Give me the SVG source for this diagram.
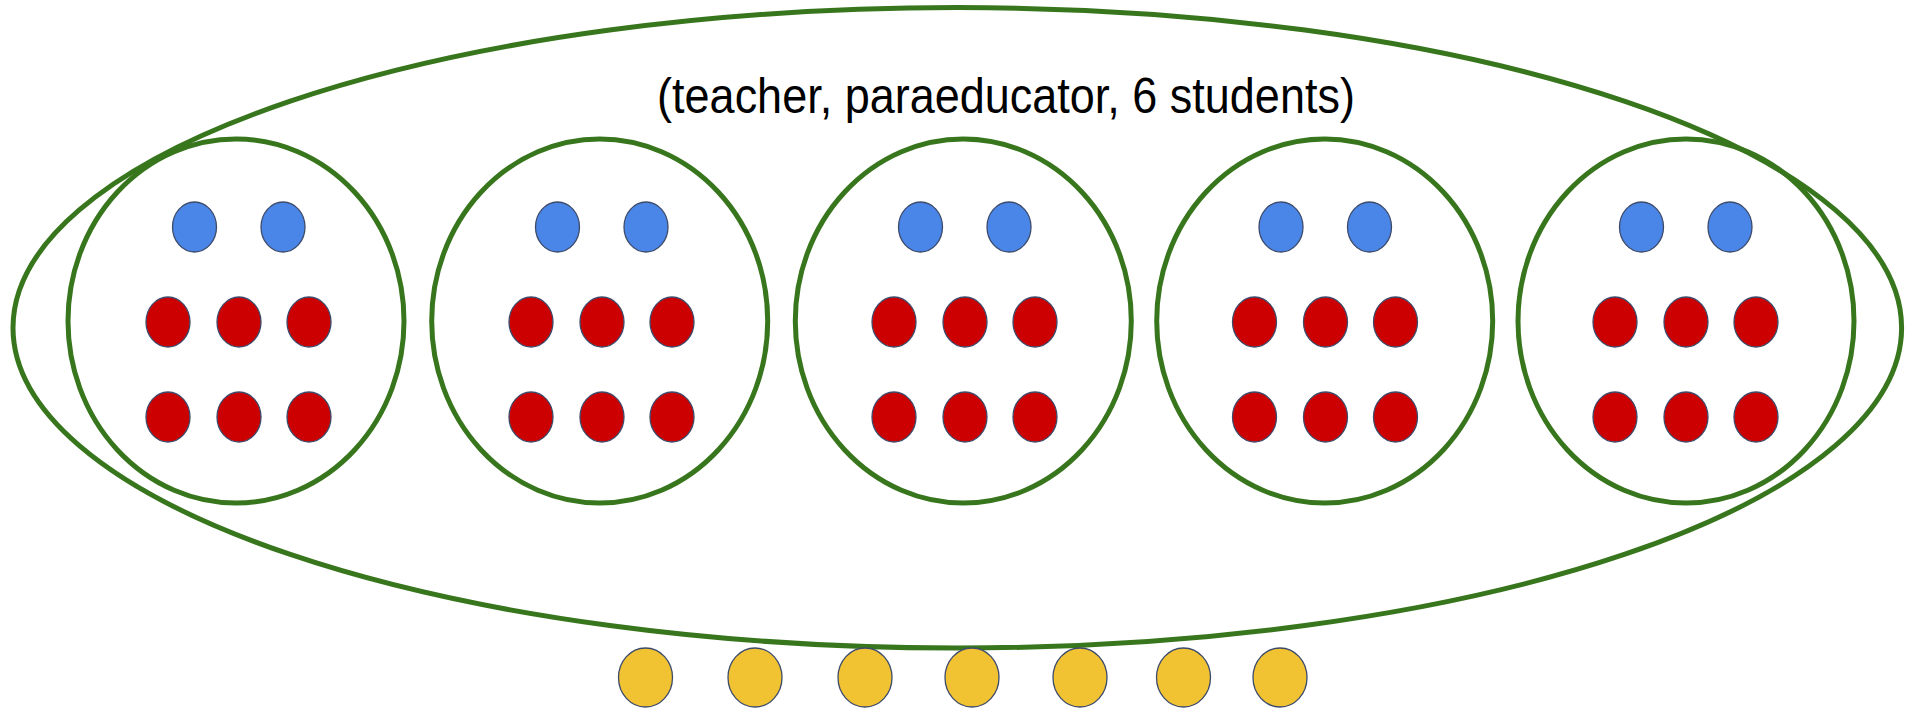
<svg xmlns="http://www.w3.org/2000/svg" width="1905" height="709" viewBox="0 0 1905 709">
  <style>
    .ring { fill: none; stroke: #38761d; stroke-width: 5; }
    .dot { stroke: #3d4b6b; stroke-width: 1.3; }
    .teacher { fill: #4a86e8; }
    .student { fill: #cc0000; }
    .aide { fill: #f1c232; }
    .label { font-family: "Liberation Sans", Arial, sans-serif; font-size: 45px; fill: #000000; }
  </style>
  <defs>
    <g id="cluster">
      <ellipse class="dot teacher" cx="194.5" cy="227" rx="22" ry="25"/>
      <ellipse class="dot teacher" cx="283" cy="227" rx="22" ry="25"/>
      <ellipse class="dot student" cx="168" cy="322" rx="22" ry="25"/>
      <ellipse class="dot student" cx="239" cy="322" rx="22" ry="25"/>
      <ellipse class="dot student" cx="309" cy="322" rx="22" ry="25"/>
      <ellipse class="dot student" cx="168" cy="417" rx="22" ry="25"/>
      <ellipse class="dot student" cx="239" cy="417" rx="22" ry="25"/>
      <ellipse class="dot student" cx="309" cy="417" rx="22" ry="25"/>
    </g>
  </defs>
  <rect width="1905" height="709" fill="#ffffff"/>
  <g id="classroom">
    <ellipse class="ring" cx="957.3" cy="327.8" rx="944.3" ry="320.2"/>
    <text class="label" text-anchor="middle" transform="translate(1006,113) scale(1,1.12)">(teacher, paraeducator, 6 students)</text>
  </g>
  <g id="group-1">
    <ellipse class="ring" cx="236" cy="321" rx="168" ry="182"/>
    <use href="#cluster"/>
  </g>
  <g id="group-2">
    <ellipse class="ring" cx="599.7" cy="321" rx="168" ry="182"/>
    <use href="#cluster" transform="translate(363,0)"/>
  </g>
  <g id="group-3">
    <ellipse class="ring" cx="963.3" cy="321" rx="168" ry="182"/>
    <use href="#cluster" transform="translate(726,0)"/>
  </g>
  <g id="group-4">
    <ellipse class="ring" cx="1324.7" cy="321" rx="168" ry="182"/>
    <use href="#cluster" transform="translate(1086.5,0)"/>
  </g>
  <g id="group-5">
    <ellipse class="ring" cx="1686" cy="321" rx="168" ry="182"/>
    <use href="#cluster" transform="translate(1447,0)"/>
  </g>
  <g id="aides">
    <ellipse class="dot aide" cx="645.5" cy="677.5" rx="27" ry="29.5"/>
    <ellipse class="dot aide" cx="755" cy="677.5" rx="27" ry="29.5"/>
    <ellipse class="dot aide" cx="865" cy="677.5" rx="27" ry="29.5"/>
    <ellipse class="dot aide" cx="972" cy="677.5" rx="27" ry="29.5"/>
    <ellipse class="dot aide" cx="1080" cy="677.5" rx="27" ry="29.5"/>
    <ellipse class="dot aide" cx="1183.5" cy="677.5" rx="27" ry="29.5"/>
    <ellipse class="dot aide" cx="1280" cy="677.5" rx="27" ry="29.5"/>
  </g>
  <g id="connectors"/>
</svg>
